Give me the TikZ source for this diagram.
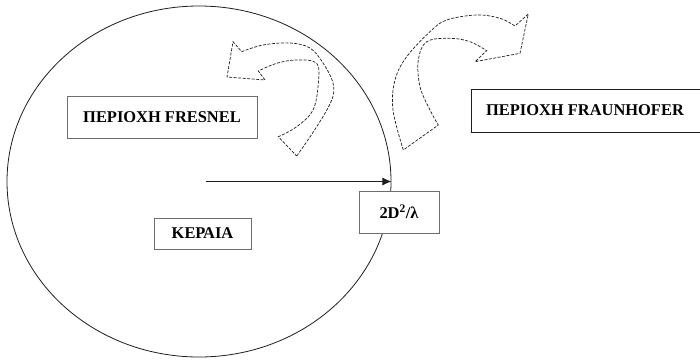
\documentclass[tikz,border=0pt]{standalone}
\usepackage{fontspec}
\setmainfont{Liberation Serif}
\usetikzlibrary{shapes.geometric, arrows.meta, positioning}
\definecolor{edgegray}{RGB}{110,110,110}
\definecolor{inkdark}{RGB}{30,30,30}

\begin{document}
\begin{tikzpicture}[x=1bp, y=-1bp,
    regionbox/.style={rectangle, fill=white, draw=edgegray, line width=0.9bp, inner sep=0pt,
        font=\fontsize{16.5}{18}\selectfont\bfseries},
    bentarrow/.style={dashed, dash pattern=on 3bp off 1.5bp, draw=inkdark, line width=0.7bp}]
\useasboundingbox (0,0) rectangle (700,359);

% Antenna field zone
\node[ellipse, draw=inkdark, line width=0.8bp, minimum width=384bp, minimum height=351bp, inner sep=0pt] (zone) at (199,181.5) {};

% Bent arrows
\draw[bentarrow] plot[smooth, tension=0.6] coordinates {(296.7,156) (316.7,126.7) (331.7,100) (333,83) (323,63) (310,48) (290,43) (263,45) (241.7,51.7)}
    -- (233,41.7) -- (227,77) -- (265,80) -- (258.3,71)
    -- plot[smooth, tension=0.6] coordinates {(258.3,71) (276.7,63.3) (296.7,60) (316.7,63.3) (318.3,83.3) (313,110) (296.7,126.7) (278.3,136.7)}
    -- cycle;
\draw[bentarrow] plot[smooth, tension=0.6] coordinates {(403.3,150) (393,110) (395,80) (406.7,56.7) (430,31.7) (446.7,20) (476.7,15) (500,18.3) (515,26)}
    -- (528.3,14) -- (520,53.3) -- (475,61.7) -- (486.7,50.7)
    -- plot[smooth, tension=0.6] coordinates {(486.7,50.7) (470,41.7) (450,38.3) (426.7,41.7) (418.3,60) (420,86.7) (430,110) (438.3,125)}
    -- cycle;

% Region labels
\node[regionbox, minimum width=190bp, minimum height=42bp] (fresnel) at (162,117) {ΠΕΡΙΟΧΗ FRESNEL};
\node[regionbox, minimum width=97bp, minimum height=31bp] (antenna) at (202.5,233.5) {ΚΕΡΑΙΑ};
\node[regionbox, draw=inkdark, minimum width=234bp, minimum height=43bp, text depth=0pt] (fraunhofer) at (588,110.5) {\hspace*{-6bp}ΠΕΡΙΟΧΗ FRAUNHOFER};
\node[regionbox, minimum width=80bp, minimum height=42bp] (limit) at (399,212) {2D\textsuperscript{2}/λ};

% Distance arrow
\draw[-{Latex[length=9bp, width=8bp]}, line width=0.8bp, inkdark] ([xshift=7bp]zone.center) -- (zone.east);
\end{tikzpicture}
\end{document}
